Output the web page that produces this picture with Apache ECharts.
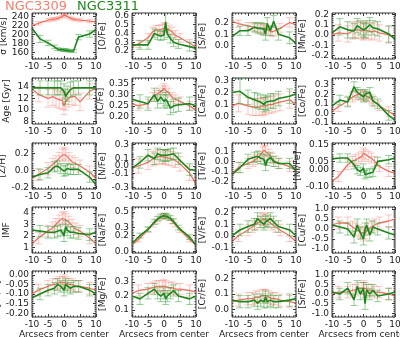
<!DOCTYPE html>
<html><head><meta charset="utf-8">
<script src="https://cdn.jsdelivr.net/npm/echarts@6/dist/echarts.min.js"></script>
<style>html,body{margin:0;padding:0;background:#fff}#c{width:400px;height:337px}</style>
</head><body><div id="c"></div>
<script>
// x positions (arcsec) of the radial bins
const xGreen = [-10, -7.5, -5, -3, -2, -1, 0, 0.5, 1, 2, 3, 4.5, 8, 10];
const xRed   = [-10, -8, -5, -3.5, -2.5, -1.5, -0.5, 0, 0.5, 1.5, 2.5, 3.5, 5, 8, 10];

// panel labels and tick labels
const panelNames = ['σ [km/s]','[O/Fe]','[S/Fe]','[Mn/Fe]','Age [Gyr]','[C/Fe]','[Ca/Fe]','[Co/Fe]','[Z/H]','[N/Fe]','[Ti/Fe]','[Ni/Fe]','IMF','[Na/Fe]','[V/Fe]','[Cu/Fe]','[Fe/H]','[Mg/Fe]','[Cr/Fe]','[Sr/Fe]'];
const xTicks = [-10, -5, 0, 5, 10];
const yTicks = [
  [160,180,200,220,240],[0.2,0.3,0.4,0.5,0.6],[0.0,0.1,0.2],[-0.2,-0.1,0.0,0.1,0.2],
  [8,10,12,14],[0.20,0.25,0.30,0.35],[0.0,0.1,0.2,0.3],[-0.1,0.0,0.1,0.2,0.3],
  [-0.2,-0.1,0.0,0.1,0.2],[-0.3,-0.2,-0.1,0.0,0.1,0.2,0.3],[-0.2,-0.1,0.0,0.1],[-0.10,-0.05,0.00,0.05,0.10,0.15],
  [1,2,3,4],[0.0,0.1,0.2,0.3,0.4,0.5],[-0.1,0.0,0.1,0.2],[-1.0,-0.5,0.0,0.5,1.0],
  [-0.20,-0.15,-0.10,-0.05,0.00],[0.1,0.2,0.3],[0.0,0.1,0.2],[-1.0,-0.5,0.0,0.5,1.0]
];
const yRanges = [
  [145,248],[0.11,0.63],[-0.11,0.28],[-0.235,0.215],
  [7.6,15.5],[0.168,0.376],[-0.06,0.32],[-0.11,0.37],
  [-0.22,0.32],[-0.32,0.32],[-0.27,0.18],[-0.115,0.16],
  [0.5,4.5],[-0.02,0.56],[-0.15,0.25],[-1.2,1.1],
  [-0.22,0.02],[0.05,0.38],[-0.05,0.25],[-1.2,1.2]
];

// NGC3309 (red) and NGC3311 (green) values and errors
const sigmaRed = [220,225,232,234,235,237,240,245,242,238,235,233,232,230,228];
const sigmaRedErr = [0,4,4,4,3,3,3,3,3,3,3,3,4,4,0];
const sigmaGreen = [214,190,181,172,167,166,165,165,164,163,163,194,201,211];
const sigmaGreenErr = [0,8,6,4,3,3,3,3,3,3,3,6,7,0];

const ofeRed = [0.25,0.28,0.35,0.42,0.44,0.44,0.45,0.47,0.46,0.44,0.42,0.38,0.35,0.29,0.24];
const ofeRedErr = [0,0.04,0.05,0.05,0.05,0.05,0.05,0.05,0.05,0.05,0.05,0.05,0.05,0.04,0];
const ofeGreen = [0.27,0.27,0.27,0.40,0.38,0.37,0.38,0.53,0.40,0.34,0.30,0.28,0.25,0.23];
const ofeGreenErr = [0,0.05,0.05,0.05,0.05,0.05,0.05,0.10,0.05,0.05,0.05,0.05,0.05,0];

const sfeRed = [0.21,0.19,0.17,0.16,0.16,0.15,0.15,0.14,0.15,0.13,0.12,0.13,0.15,0.20,0.18];
const sfeRedErr = [0,0.03,0.03,0.03,0.04,0.04,0.04,0.04,0.04,0.04,0.04,0.04,0.04,0.04,0];
const sfeGreen = [0.08,0.13,0.13,0.16,0.15,0.15,0.14,0.10,0.19,0.13,0.21,0.10,0.07,0.02];
const sfeGreenErr = [0,0.04,0.04,0.04,0.04,0.05,0.05,0.05,0.05,0.04,0.05,0.05,0.05,0];

const mnfeRed = [0.00,0.02,0.01,0.04,0.05,0.05,0.04,0.03,0.05,0.04,0.03,0.04,0.02,0.00,-0.03];
const mnfeRedErr = [0,0.08,0.08,0.08,0.08,0.08,0.08,0.08,0.08,0.08,0.08,0.08,0.08,0.08,0];
const mnfeGreen = [0.02,0.08,0.05,0.04,0.09,0.07,0.05,0.04,0.07,0.10,0.07,0.06,0.01,-0.04];
const mnfeGreenErr = [0,0.08,0.08,0.07,0.07,0.07,0.07,0.07,0.07,0.07,0.07,0.07,0.08,0];

const ageRed = [13.6,12.7,12.0,12.3,12.0,11.8,11.6,10.7,11.5,12.0,12.4,12.3,11.4,13.2,13.8];
const ageRedErr = [0,1.3,1.5,1.5,1.5,1.5,1.5,1.5,1.5,1.5,1.5,1.5,1.5,1.3,0];
const ageGreen = [13.8,13.8,13.8,13.8,13.8,13.8,13.2,12.3,12.8,13.5,13.8,13.8,13.8,13.8];
const ageGreenErr = [0,1.2,1.2,1.2,1.2,1.2,1.3,1.3,1.3,1.3,1.2,1.2,1.2,0];

const cfeRed = [0.26,0.25,0.26,0.29,0.30,0.31,0.32,0.33,0.32,0.31,0.29,0.28,0.27,0.25,0.23];
const cfeRedErr = [0,0.02,0.02,0.02,0.02,0.02,0.02,0.02,0.02,0.02,0.02,0.02,0.02,0.02,0];
const cfeGreen = [0.28,0.27,0.26,0.30,0.27,0.29,0.27,0.28,0.27,0.24,0.25,0.255,0.26,0.25];
const cfeGreenErr = [0,0.03,0.03,0.03,0.03,0.03,0.03,0.03,0.03,0.03,0.03,0.03,0.03,0];

const cafeRed = [0.09,0.11,0.09,0.08,0.08,0.08,0.09,0.08,0.09,0.10,0.10,0.11,0.12,0.14,0.10];
const cafeRedErr = [0,0.07,0.07,0.07,0.07,0.07,0.07,0.07,0.07,0.07,0.07,0.07,0.07,0.07,0];
const cafeGreen = [0.20,0.21,0.16,0.14,0.13,0.12,0.10,0.12,0.11,0.13,0.13,0.15,0.17,0.19];
const cafeGreenErr = [0,0.1,0.06,0.06,0.06,0.06,0.06,0.06,0.06,0.06,0.06,0.06,0.06,0];

const cofeRed = [0.02,0.07,0.13,0.17,0.19,0.20,0.19,0.18,0.19,0.17,0.15,0.12,0.08,0.02,-0.02];
const cofeRedErr = [0,0.05,0.05,0.05,0.05,0.05,0.05,0.05,0.05,0.05,0.05,0.05,0.05,0.05,0];
const cofeGreen = [0.08,0.14,0.12,0.28,0.22,0.20,0.17,0.20,0.18,0.22,0.13,0.10,-0.02,-0.07];
const cofeGreenErr = [0,0.05,0.05,0.05,0.05,0.05,0.05,0.05,0.05,0.05,0.05,0.05,0.05,0];

const zhRed = [-0.10,-0.05,0.02,0.07,0.10,0.14,0.18,0.20,0.18,0.14,0.10,0.08,0.05,-0.02,-0.10];
const zhRedErr = [0,0.07,0.07,0.07,0.07,0.07,0.07,0.07,0.07,0.07,0.07,0.07,0.07,0.07,0];
const zhGreen = [-0.08,-0.05,-0.03,0.04,0.05,0.02,-0.01,0.00,0.02,0.01,0.01,0.01,-0.08,-0.17];
const zhGreenErr = [0,0.06,0.06,0.06,0.06,0.06,0.06,0.06,0.06,0.06,0.06,0.06,0.06,0];

const nfeRed = [-0.03,0.00,0.05,0.10,0.12,0.13,0.13,0.13,0.12,0.11,0.10,0.08,0.03,-0.10,-0.25];
const nfeRedErr = [0,0.10,0.10,0.10,0.10,0.10,0.10,0.10,0.10,0.10,0.10,0.10,0.10,0.10,0];
const nfeGreen = [-0.03,0.05,0.15,0.10,0.17,0.15,0.15,0.14,0.15,0.16,0.17,0.10,-0.05,-0.06];
const nfeGreenErr = [0,0.08,0.08,0.08,0.08,0.08,0.08,0.08,0.08,0.08,0.08,0.08,0.08,0];

const tifeRed = [-0.12,-0.06,-0.02,0.00,0.02,0.05,0.09,0.11,0.10,0.07,0.03,0.00,-0.02,-0.05,-0.09];
const tifeRedErr = [0,0.05,0.05,0.05,0.05,0.05,0.05,0.05,0.05,0.05,0.05,0.05,0.05,0.05,0];
const tifeGreen = [-0.13,-0.06,0.02,0.04,0.05,0.03,0.02,-0.04,0.01,0.04,0.00,-0.02,-0.02,-0.09];
const tifeGreenErr = [0,0.05,0.05,0.05,0.05,0.05,0.05,0.05,0.05,0.05,0.05,0.05,0.05,0];

const nifeRed = [-0.07,-0.04,0.03,0.05,0.06,0.07,0.08,0.10,0.09,0.08,0.07,0.05,0.02,-0.01,-0.02];
const nifeRedErr = [0,0.03,0.03,0.03,0.03,0.03,0.03,0.03,0.03,0.03,0.03,0.03,0.03,0.03,0];
const nifeGreen = [0.065,0.07,0.07,0.03,0.00,-0.01,0.01,-0.03,-0.02,-0.02,-0.015,0.05,0.06,0.07];
const nifeGreenErr = [0,0.025,0.025,0.025,0.025,0.025,0.025,0.025,0.025,0.025,0.025,0.025,0.025,0];

const imfRed = [1.3,1.8,2.4,2.7,3.0,3.3,3.5,3.6,3.4,3.2,2.9,2.6,2.4,1.8,1.3];
const imfRedErr = [0,0.5,0.5,0.5,0.5,0.5,0.5,0.5,0.5,0.5,0.5,0.5,0.5,0.5,0];
const imfGreen = [2.5,2.4,2.3,2.3,2.4,2.5,2.0,2.8,2.5,2.3,2.3,2.2,2.1,2.3];
const imfGreenErr = [0,0.5,0.5,0.5,0.5,0.5,0.5,0.5,0.5,0.5,0.5,0.5,0.5,0];

const nafeRed = [0.08,0.15,0.27,0.34,0.38,0.42,0.44,0.45,0.44,0.42,0.38,0.34,0.27,0.15,0.08];
const nafeRedErr = [0,0.03,0.03,0.03,0.03,0.03,0.03,0.03,0.03,0.03,0.03,0.03,0.03,0.03,0];
const nafeGreen = [0.10,0.20,0.28,0.37,0.41,0.44,0.45,0.45,0.44,0.42,0.38,0.30,0.18,0.08];
const nafeGreenErr = [0,0.03,0.03,0.03,0.03,0.03,0.03,0.03,0.03,0.03,0.03,0.03,0.03,0];

const vfeRed = [-0.05,0.00,0.05,0.08,0.10,0.12,0.14,0.15,0.14,0.12,0.10,0.08,0.05,0.00,-0.05];
const vfeRedErr = [0,0.05,0.05,0.05,0.05,0.05,0.05,0.05,0.05,0.05,0.05,0.05,0.05,0.05,0];
const vfeGreen = [0.00,0.05,0.08,0.10,0.15,0.12,0.10,0.12,0.13,0.15,0.12,0.08,0.05,0.00];
const vfeGreenErr = [0,0.05,0.05,0.05,0.05,0.05,0.05,0.05,0.05,0.05,0.05,0.05,0.05,0];

const cufeRed = [0.2,0.3,0.3,0.1,0.0,-0.1,-0.2,-0.3,-0.2,0.0,0.1,0.2,0.3,0.4,0.5];
const cufeRedErr = [0,0.3,0.3,0.3,0.3,0.3,0.3,0.3,0.3,0.3,0.3,0.3,0.3,0.3,0];
const cufeGreen = [0.2,0.1,0.0,-0.4,0.2,-0.2,-0.5,0.0,0.2,-0.3,0.1,0.0,-0.2,-0.3];
const cufeGreenErr = [0,0.3,0.3,0.3,0.3,0.3,0.3,0.3,0.3,0.3,0.3,0.3,0.3,0];

const fehRed = [-0.10,-0.08,-0.06,-0.05,-0.05,-0.04,-0.04,-0.03,-0.04,-0.05,-0.05,-0.06,-0.06,-0.07,-0.08];
const fehRedErr = [0,0.03,0.03,0.03,0.03,0.03,0.03,0.03,0.03,0.03,0.03,0.03,0.03,0.03,0];
const fehGreen = [-0.12,-0.10,-0.08,-0.07,-0.05,-0.06,-0.08,-0.05,-0.06,-0.07,-0.06,-0.06,-0.08,-0.10];
const fehGreenErr = [0,0.03,0.03,0.03,0.03,0.03,0.03,0.03,0.03,0.03,0.03,0.03,0.03,0];

const mgfeRed = [0.22,0.24,0.25,0.26,0.27,0.27,0.27,0.28,0.27,0.26,0.26,0.25,0.25,0.24,0.23];
const mgfeRedErr = [0,0.04,0.04,0.04,0.04,0.04,0.04,0.04,0.04,0.04,0.04,0.04,0.04,0.04,0];
const mgfeGreen = [0.20,0.18,0.22,0.25,0.22,0.20,0.22,0.18,0.20,0.22,0.24,0.20,0.18,0.20];
const mgfeGreenErr = [0,0.04,0.04,0.04,0.04,0.04,0.04,0.04,0.04,0.04,0.04,0.04,0.04,0];

const crfeRed = [0.05,0.06,0.07,0.07,0.08,0.08,0.09,0.09,0.09,0.08,0.07,0.07,0.06,0.05,0.04];
const crfeRedErr = [0,0.04,0.04,0.04,0.04,0.04,0.04,0.04,0.04,0.04,0.04,0.04,0.04,0.04,0];
const crfeGreen = [0.06,0.05,0.05,0.06,0.04,0.06,0.05,0.08,0.05,0.06,0.05,0.05,0.06,0.07];
const crfeGreenErr = [0,0.04,0.04,0.04,0.04,0.04,0.04,0.04,0.04,0.04,0.04,0.04,0.04,0];

const srfeRed = [0.0,0.1,0.1,0.2,0.2,0.3,0.3,0.4,0.3,0.2,0.2,0.1,0.1,0.0,-0.1];
const srfeRedErr = [0,0.3,0.3,0.3,0.3,0.3,0.3,0.3,0.3,0.3,0.3,0.3,0.3,0.3,0];
const srfeGreen = [0.1,0.0,0.3,-0.3,0.4,0.0,0.3,-0.5,0.2,0.0,0.2,-0.1,0.0,0.1];
const srfeGreenErr = [0,0.3,0.3,0.3,0.3,0.3,0.3,0.3,0.3,0.3,0.3,0.3,0.3,0];

const redSets = [sigmaRed,ofeRed,sfeRed,mnfeRed,ageRed,cfeRed,cafeRed,cofeRed,zhRed,nfeRed,tifeRed,nifeRed,imfRed,nafeRed,vfeRed,cufeRed,fehRed,mgfeRed,crfeRed,srfeRed];
const redErrSets = [sigmaRedErr,ofeRedErr,sfeRedErr,mnfeRedErr,ageRedErr,cfeRedErr,cafeRedErr,cofeRedErr,zhRedErr,nfeRedErr,tifeRedErr,nifeRedErr,imfRedErr,nafeRedErr,vfeRedErr,cufeRedErr,fehRedErr,mgfeRedErr,crfeRedErr,srfeRedErr];
const greenSets = [sigmaGreen,ofeGreen,sfeGreen,mnfeGreen,ageGreen,cfeGreen,cafeGreen,cofeGreen,zhGreen,nfeGreen,tifeGreen,nifeGreen,imfGreen,nafeGreen,vfeGreen,cufeGreen,fehGreen,mgfeGreen,crfeGreen,srfeGreen];
const greenErrSets = [sigmaGreenErr,ofeGreenErr,sfeGreenErr,mnfeGreenErr,ageGreenErr,cfeGreenErr,cafeGreenErr,cofeGreenErr,zhGreenErr,nfeGreenErr,tifeGreenErr,nifeGreenErr,imfGreenErr,nafeGreenErr,vfeGreenErr,cufeGreenErr,fehGreenErr,mgfeGreenErr,crfeGreenErr,srfeGreenErr];

// ---- layout / style ----
const FONT = 'DejaVu Sans';
const RED = '#f56f60', RED_ERR = 'rgba(250,130,120,0.45)';
const GREEN = '#1d861d', GREEN_ERR = 'rgba(70,165,70,0.55)';
const TXT = '#222', FRAME = '#3a3a3a';
const colLeft = [32,132,232,332], rowTop = [13,78,143,207,271], W = 64, H = 46;
const nameGapCol = [21,25,25,25];

function decimalsOf(ticks){
  let d = 0;
  ticks.forEach(t => { const s = String(Math.abs(t)); const k = s.indexOf('.'); if (k >= 0) d = Math.max(d, s.length-k-1); });
  return d;
}
function fmt(v, d){ const s = Math.abs(v).toFixed(d); return (v < -1e-12 ? '-' : '') + s; }
function minorOf(ticks, range){
  const step = ticks.length > 1 ? ticks[1]-ticks[0] : 1;
  const mant = step / Math.pow(10, Math.floor(Math.log10(step)+1e-9));
  const n = (Math.abs(mant-1)<1e-6 || Math.abs(mant-5)<1e-6) ? 5 : 4;
  const ms = step / n, out = [];
  const start = Math.ceil((range[0]-1e-9)/ms);
  for (let k = start; k*ms <= range[1]+1e-9; k++) out.push(+(k*ms).toFixed(8));
  return out;
}

const grids = [], xAxes = [], yAxes = [], series = [];
panelNames.forEach((pname, i) => {
  const r = Math.floor(i/4), c = i % 4;
  const ticks = yTicks[i], range = yRanges[i], dec = decimalsOf(ticks);
  const minors = minorOf(ticks, range);
  grids.push({left: colLeft[c], top: rowTop[r], width: c===3?63:W, height: H, show: true,
    borderColor: FRAME, borderWidth: 1, backgroundColor: 'transparent', containLabel: false,
    outerBoundsMode: 'none'});
  const xBase = {gridIndex: i, type: 'value', min: -10, max: 10, interval: 5,
    axisLine: {show: false, onZero: false}, splitLine: {show: false}, minorSplitLine: {show: false},
    axisTick: {show: true, inside: true, length: 3, lineStyle: {color: FRAME, width: 1}},
    minorTick: {show: true, splitNumber: 5, length: 1.5, lineStyle: {color: FRAME, width: 1}}};
  xAxes.push(Object.assign({}, xBase, {position: 'bottom',
    axisLabel: {show: true, fontSize: 9, color: TXT, margin: 3, fontFamily: FONT,
      hideOverlap: false, formatter: v => fmt(v, 0)},
    name: r === 4 ? 'Arcsecs from center' : '', nameLocation: 'middle', nameGap: 12,
    nameTextStyle: {fontSize: 9, color: TXT, fontFamily: FONT}}));
  xAxes.push(Object.assign({}, xBase, {position: 'top', axisLabel: {show: false}}));
  const yBase = {gridIndex: i, type: 'value', min: range[0], max: range[1],
    axisLine: {show: false, onZero: false}, splitLine: {show: false}, minorTick: {show: false}};
  yAxes.push(Object.assign({}, yBase, {position: 'left',
    axisTick: {show: true, inside: true, length: 3, customValues: ticks, lineStyle: {color: FRAME}},
    axisLabel: {show: true, fontSize: 9, color: TXT, margin: 3, fontFamily: FONT, hideOverlap: false,
      showMinLabel: true, showMaxLabel: true,
      customValues: ticks, formatter: v => fmt(v, dec)},
    name: pname, nameLocation: 'middle', nameGap: nameGapCol[c], nameRotate: 90,
    nameTextStyle: {fontSize: 9, color: TXT, fontFamily: FONT}}));
  yAxes.push(Object.assign({}, yBase, {position: 'right', axisLabel: {show: false},
    axisTick: {show: true, inside: true, length: 3, customValues: ticks, lineStyle: {color: FRAME}}}));

  const xi = 2*i, yi = 2*i;
  // minor y ticks on both sides of the frame
  series.push({type: 'custom', xAxisIndex: xi, yAxisIndex: yi, silent: true, z: 6, animation: false, clip: false,
    data: [[0, range[0]]],
    renderItem: (params, api) => {
      const cs = params.coordSys, kids = [];
      minors.forEach(v => {
        if (ticks.some(t => Math.abs(t - v) < 1e-9)) return;
        const p = api.coord([0, v]);
        kids.push({type: 'line', shape: {x1: cs.x, y1: p[1], x2: cs.x + 1.5, y2: p[1]}, style: {stroke: FRAME, lineWidth: 1}});
        kids.push({type: 'line', shape: {x1: cs.x + cs.width, y1: p[1], x2: cs.x + cs.width - 1.5, y2: p[1]}, style: {stroke: FRAME, lineWidth: 1}});
      });
      return {type: 'group', children: kids};
    }});
  const errSeries = (xs, ys, es, color, z) => ({
    type: 'custom', xAxisIndex: xi, yAxisIndex: yi, clip: true, silent: true, z: z, animation: false,
    data: xs.map((x, k) => [x, ys[k], es[k]]),
    renderItem: (params, api) => {
      const x = api.value(0), y = api.value(1), e = api.value(2);
      if (!e) return null;
      const t = api.coord([x, y+e]), b = api.coord([x, y-e]), w = 3.5;
      const st = {stroke: color, lineWidth: 1};
      return {type: 'group', children: [
        {type: 'line', shape: {x1: t[0], y1: t[1], x2: b[0], y2: b[1]}, style: st},
        {type: 'line', shape: {x1: t[0]-w, y1: t[1], x2: t[0]+w, y2: t[1]}, style: st},
        {type: 'line', shape: {x1: b[0]-w, y1: b[1], x2: b[0]+w, y2: b[1]}, style: st}]};
    }});
  const lineSeries = (xs, ys, color, width, z) => ({
    type: 'line', xAxisIndex: xi, yAxisIndex: yi, showSymbol: false, symbol: 'none', clip: true,
    silent: true, z: z, animation: false, lineStyle: {color: color, width: width},
    data: xs.map((x, k) => [x, ys[k]])});
  series.push(errSeries(xRed, redSets[i], redErrSets[i], RED_ERR, 2));
  series.push(lineSeries(xRed, redSets[i], RED, 1.3, 3));
  series.push(errSeries(xGreen, greenSets[i], greenErrSets[i], GREEN_ERR, 4));
  series.push(lineSeries(xGreen, greenSets[i], GREEN, 1.6, 5));
});

const chart = echarts.init(document.getElementById('c'), null, {renderer: 'canvas'});
chart.setOption({
  animation: false,
  backgroundColor: '#fff',
  grid: grids, xAxis: xAxes, yAxis: yAxes, series: series,
  graphic: [
    {type: 'text', left: 5, top: 0, style: {text: 'NGC3309', fill: '#f7806f', font: '13px "DejaVu Sans"'}},
    {type: 'text', left: 77, top: 0, style: {text: 'NGC3311', fill: '#1d8a1d', font: '13px "DejaVu Sans"'}}
  ]
});
</script></body></html>
